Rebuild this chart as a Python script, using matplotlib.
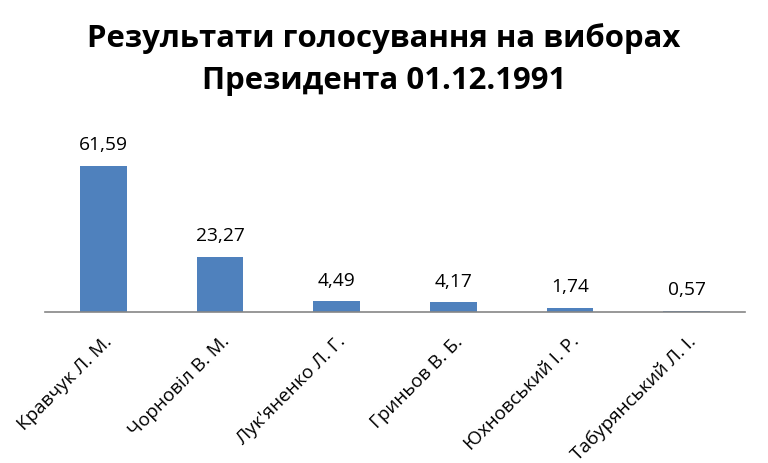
import matplotlib
matplotlib.use("Agg")
import matplotlib.pyplot as plt

categories = ["Кравчук Л. М.", "Чорновіл В. М.", "Лук'яненко Л. Г.",
              "Гриньов В. Б.", "Юхновський І. Р.", "Табурянський Л. І."]
values = [61.59, 23.27, 4.49, 4.17, 1.74, 0.57]
value_labels = ["61,59", "23,27", "4,49", "4,17", "1,74", "0,57"]
title_lines = ["Результати голосування на виборах", "Президента 01.12.1991"]

plt.rcParams['font.family'] = ['Open Sans', 'DejaVu Sans']

fig = plt.figure(figsize=(7.68, 4.64), dpi=100)
ax = fig.add_axes([45/768, 151/464, 700/768, 166/464])
x = list(range(len(categories)))
bars = ax.bar(x, values, width=0.4, color="#4F81BD")
ax.set_xlim(-0.5, len(categories) - 0.5)
ax.set_ylim(0, 70)
for xi, v, lab in zip(x, values, value_labels):
    ax.annotate(lab, (xi, v), xytext=(0, 9), textcoords="offset points",
                ha="center", va="bottom", fontsize=13.8)
ax.set_xticks(x)
ax.set_xticklabels(categories, rotation=45, ha="right", va="top",
                   rotation_mode="anchor", fontsize=13.6)
ax.tick_params(axis="x", length=0, pad=14)
ax.set_yticks([])
for s in ["top", "right", "left"]:
    ax.spines[s].set_visible(False)
ax.spines["bottom"].set_color("#868686")
ax.spines["bottom"].set_linewidth(1.2)

for line, ypix in zip(title_lines, [47, 89]):
    fig.text(0.5, 1 - ypix/464, line, ha="center", va="baseline",
             fontsize=22.4, fontweight="bold")

fig.savefig("out.png", dpi=100)
